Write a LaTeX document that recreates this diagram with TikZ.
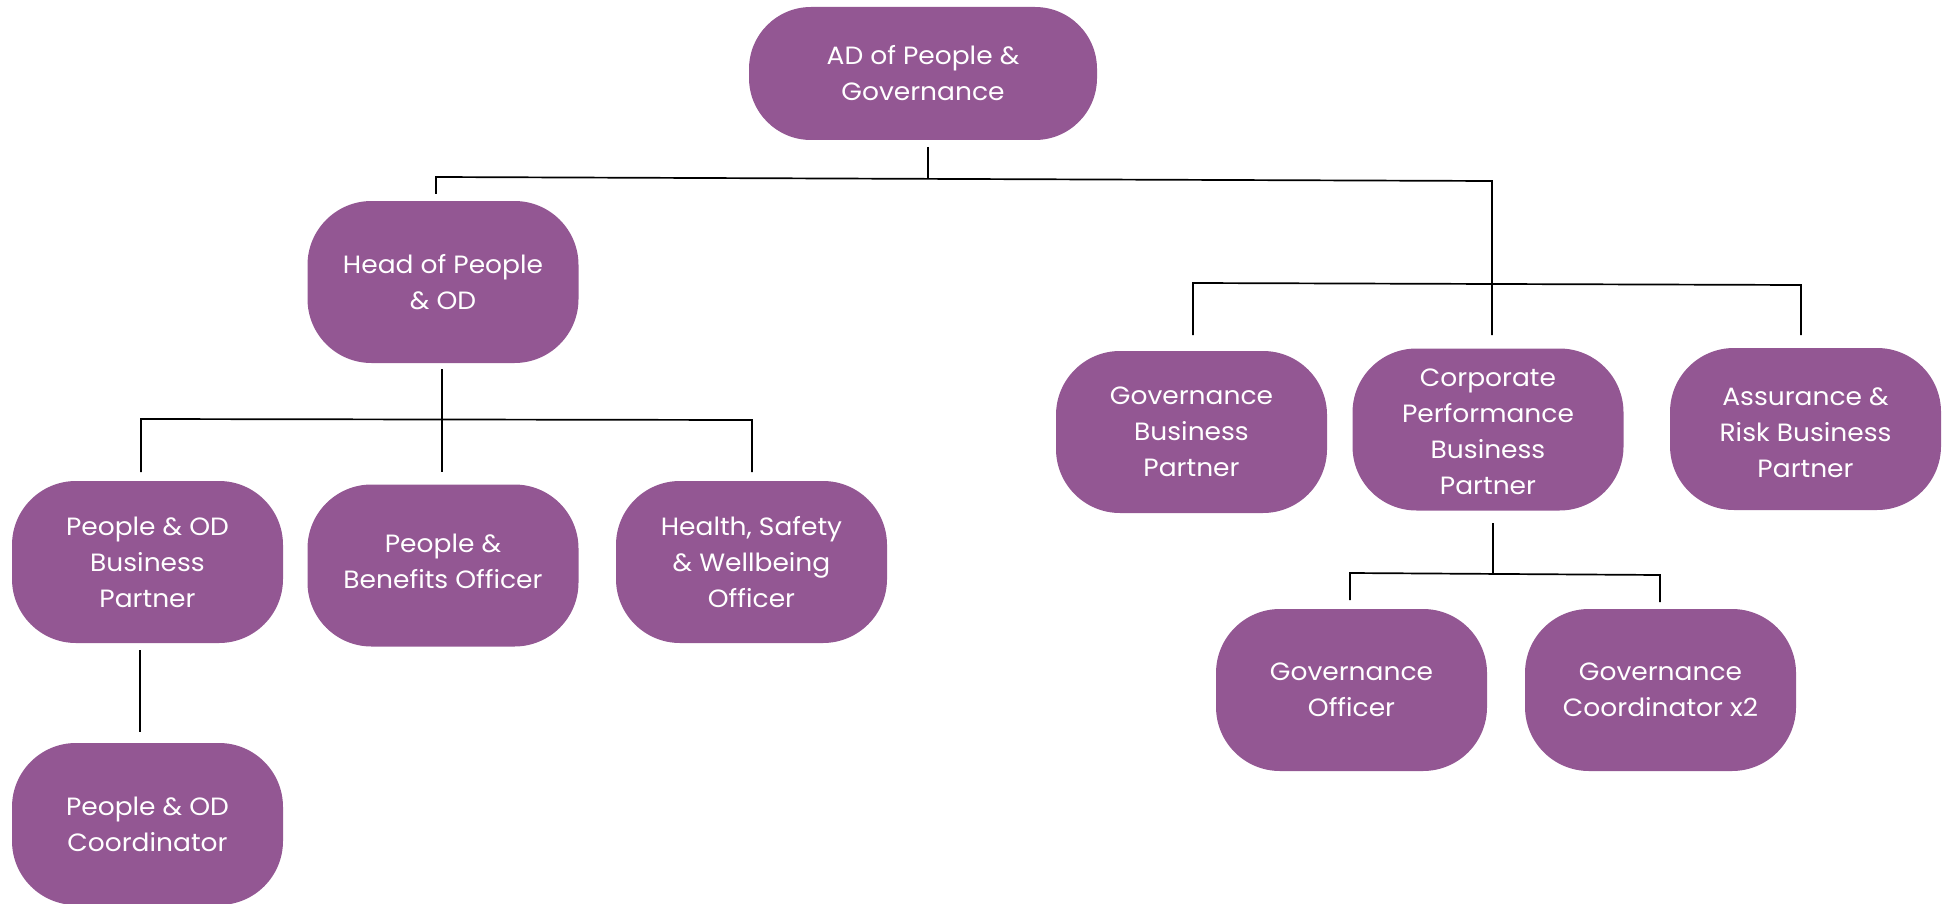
\documentclass[tikz,border=0pt]{standalone}
\usepackage{fontspec}
\setmainfont{Poppins}[FakeStretch=1.06]
\definecolor{boxpurple}{RGB}{147,87,147}
\tikzset{
  orgtext/.style={text=white, align=center,
    font=\fontsize{25}{36}\selectfont, inner sep=0pt},
  orgbox/.style={orgtext, fill=boxpurple, rounded corners=64pt,
    minimum width=271pt, minimum height=162pt},
  wire/.style={line width=1.7pt, black}
}
\begin{document}
\begin{tikzpicture}[x=1pt,y=-1pt]
\useasboundingbox (0,0) rectangle (1942,904);
% boxes
\node[orgbox, minimum width=348pt, minimum height=133pt, rounded corners=62pt] (ad) at (923,73.5) {AD of People \&\\Governance};
\node[orgbox] (head) at (443,282) {Head of People\\\& OD};
\node[orgbox] (podbp) at (147.5,562) {People \& OD\\Business\\Partner};
\node[orgbox] (pbo) at (443,565.5) {};
\node[orgtext, yshift=4pt] (pbo-t) at (pbo.center) {People \&\\Benefits Officer};
\node[orgbox] (hsw) at (751.5,562) {Health, Safety\\\& Wellbeing\\Officer};
\node[orgbox] (podc) at (147.5,824) {People \& OD\\Coordinator};
\node[orgbox] (gbp) at (1191.5,432) {Governance\\Business\\Partner};
\node[orgbox] (cpbp) at (1488,429.5) {};
\node[orgtext, yshift=-2.5pt] (cpbp-t) at (cpbp.center) {Corporate\\Performance\\Business\\Partner};
\node[orgbox] (arbp) at (1805.5,429) {};
\node[orgtext, yshift=-3.5pt] (arbp-t) at (arbp.center) {Assurance \&\\Risk Business\\Partner};
\node[orgbox] (go) at (1351.5,690) {Governance\\Officer};
\node[orgbox] (gc) at (1660.5,690) {Governance\\Coordinator x2};
% junction coordinates
\coordinate (adS) at (928,147);
\coordinate (adJ) at (928,178.5);
\coordinate (topL) at (436,177);
\coordinate (topR) at (1492,181);
\coordinate (headN) at (436,194);
\coordinate (cpbpN) at (1492,335);
\coordinate (midL) at (1193,283);
\coordinate (midR) at (1801,285);
\coordinate (gbpN) at (1193,335);
\coordinate (arbpN) at (1801,335);
\coordinate (headS) at (442,369);
\coordinate (pboN) at (442,472);
\coordinate (lvlL) at (141,419);
\coordinate (lvlR) at (752,420);
\coordinate (podbpN) at (141,472);
\coordinate (hswN) at (752,472);
\coordinate (podbpS) at (140,650);
\coordinate (podcN) at (140,732);
\coordinate (cpbpS) at (1493,523);
\coordinate (cpbpJ) at (1493,574);
\coordinate (botL) at (1350,573);
\coordinate (botR) at (1660,575);
\coordinate (goN) at (1350,600);
\coordinate (gcN) at (1660,602);
% connectors
\draw[wire] (adS) -- (adJ);
\draw[wire] (headN) -- (topL) -- (topR) -- (cpbpN);
\draw[wire] (gbpN) -- (midL) -- (midR) -- (arbpN);
\draw[wire] (headS) -- (pboN);
\draw[wire] (podbpN) -- (lvlL) -- (lvlR) -- (hswN);
\draw[wire] (podbpS) -- (podcN);
\draw[wire] (cpbpS) -- (cpbpJ);
\draw[wire] (goN) -- (botL) -- (botR) -- (gcN);
\end{tikzpicture}
\end{document}
